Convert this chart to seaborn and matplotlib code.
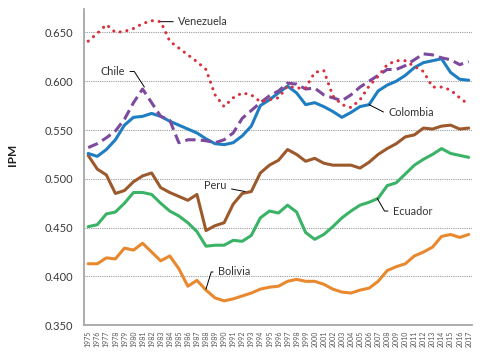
import numpy as np
import pandas as pd
import seaborn as sns
import matplotlib
matplotlib.use("Agg")
import matplotlib.pyplot as plt

# data (IPM by year)
years = list(range(1975, 2018))

venezuela = [0.641, 0.649, 0.658, 0.650, 0.651, 0.654, 0.659, 0.662, 0.661, 0.641,
             0.634, 0.627, 0.620, 0.612, 0.586, 0.574, 0.583, 0.588, 0.586, 0.579,
             0.581, 0.583, 0.595, 0.593, 0.593, 0.609, 0.611, 0.585, 0.576, 0.573,
             0.581, 0.595, 0.605, 0.617, 0.621, 0.621, 0.615, 0.610, 0.594, 0.594,
             0.591, 0.583, 0.576]
chile = [0.532, 0.536, 0.542, 0.549, 0.561, 0.578, 0.592, 0.578, 0.564, 0.560,
         0.537, 0.540, 0.540, 0.539, 0.537, 0.540, 0.547, 0.562, 0.570, 0.578,
         0.585, 0.590, 0.598, 0.597, 0.592, 0.593, 0.586, 0.583, 0.580, 0.586,
         0.594, 0.600, 0.606, 0.612, 0.612, 0.616, 0.622, 0.628, 0.627, 0.624,
         0.622, 0.617, 0.620]
colombia = [0.526, 0.523, 0.530, 0.540, 0.555, 0.563, 0.564, 0.567, 0.564, 0.559,
            0.555, 0.551, 0.547, 0.541, 0.536, 0.535, 0.537, 0.544, 0.554, 0.575,
            0.581, 0.588, 0.595, 0.588, 0.576, 0.578, 0.574, 0.569, 0.563, 0.568,
            0.574, 0.576, 0.590, 0.596, 0.600, 0.606, 0.614, 0.619, 0.621, 0.623,
            0.609, 0.602, 0.601]
peru = [0.524, 0.510, 0.504, 0.485, 0.488, 0.497, 0.503, 0.506, 0.491, 0.486,
        0.482, 0.478, 0.484, 0.447, 0.452, 0.455, 0.474, 0.485, 0.487, 0.506,
        0.514, 0.519, 0.530, 0.525, 0.518, 0.521, 0.516, 0.514, 0.514, 0.514,
        0.511, 0.517, 0.525, 0.531, 0.536, 0.543, 0.545, 0.552, 0.551, 0.554,
        0.555, 0.551, 0.552]
ecuador = [0.451, 0.453, 0.464, 0.466, 0.475, 0.486, 0.486, 0.484, 0.475, 0.467,
           0.462, 0.455, 0.446, 0.431, 0.432, 0.432, 0.437, 0.436, 0.442, 0.460,
           0.467, 0.465, 0.473, 0.466, 0.445, 0.438, 0.443, 0.451, 0.460, 0.467,
           0.473, 0.476, 0.480, 0.493, 0.496, 0.505, 0.514, 0.520, 0.525, 0.531,
           0.526, 0.524, 0.522]
bolivia = [0.413, 0.413, 0.419, 0.418, 0.429, 0.427, 0.434, 0.425, 0.416, 0.421,
           0.408, 0.390, 0.396, 0.386, 0.378, 0.375, 0.377, 0.380, 0.383, 0.387,
           0.389, 0.390, 0.395, 0.397, 0.395, 0.395, 0.392, 0.387, 0.384, 0.383,
           0.386, 0.388, 0.395, 0.406, 0.410, 0.413, 0.421, 0.425, 0.430, 0.441,
           0.443, 0.440, 0.443]

yticks = [0.350, 0.400, 0.450, 0.500, 0.550, 0.600, 0.650]

sns.set_theme(style="white")
plt.rcParams['font.family'] = ['Lato', 'DejaVu Sans']

# drawing order: bottom first
series = [
    ("Bolivia", bolivia, "#e8892f", ""),
    ("Ecuador", ecuador, "#3bb366", ""),
    ("Peru", peru, "#9c5a2c", ""),
    ("Colombia", colombia, "#1f7ec1", ""),
    ("Chile", chile, "#7d4a9e", (3.4, 1.7)),
    ("Venezuela", venezuela, "#d8303c", (0.05, 2.2)),
]

fig, ax = plt.subplots(figsize=(4.84, 3.59), dpi=100)
fig.subplots_adjust(left=0.174, right=0.975, bottom=0.094, top=0.975)

for name, vals, col, dash in series:
    df = pd.DataFrame({"year": years, "IPM": vals})
    kw = {}
    if dash:
        kw["dashes"] = dash
    sns.lineplot(data=df, x="year", y="IPM", ax=ax, color=col, linewidth=2.2,
                 dash_capstyle="round" if name == "Venezuela" else "butt",
                 solid_capstyle="round", **kw)

ax.set_xlim(1974.56, 2017.35)
ax.set_ylim(0.350, 0.674)
ax.set_yticks(yticks)
ax.set_yticklabels([f"{v:.3f}" for v in yticks])
ax.set_xticks(years)
ax.set_xticklabels([str(y) for y in years], rotation=90)
ax.tick_params(axis="y", length=0, pad=8, labelsize=8, labelcolor="#3a3a3a")
ax.tick_params(axis="x", length=0, pad=4, labelsize=5, labelcolor="#555555")

ax.yaxis.grid(True, linestyle=(0, (1, 1)), color="#9a9a9a", linewidth=0.8)
ax.xaxis.grid(False)
ax.set_axisbelow(True)
sns.despine(ax=ax)
for s in ["left", "bottom"]:
    ax.spines[s].set_color("#a6a6a6")
    ax.spines[s].set_linewidth(1.3)

ax.set_xlabel("")
ax.set_ylabel("IPM", fontsize=8.5, fontweight="bold", color="#222222")
ax.yaxis.set_label_coords(-0.17, 0.54)

# leader-line labels
lab = dict(fontsize=7.8, color="#333333", va="center")
line = dict(arrowstyle="-", color="black", linewidth=0.7, shrinkA=1, shrinkB=0)
ax.annotate("Venezuela", xy=(1983.0, 0.661), xytext=(1984.9, 0.661), ha="left",
            arrowprops=dict(line, connectionstyle="arc3"), **lab)
ax.annotate("Chile", xy=(1981.2, 0.594), xytext=(1979.1, 0.610), ha="right",
            arrowprops=dict(line, connectionstyle="angle,angleA=0,angleB=123,rad=0"), **lab)
ax.annotate("Colombia", xy=(2006.0, 0.576), xytext=(2008.1, 0.568), ha="left",
            arrowprops=dict(line, connectionstyle="angle,angleA=0,angleB=-27,rad=0"), **lab)
ax.annotate("Peru", xy=(1992.3, 0.487), xytext=(1990.3, 0.4927), ha="right",
            arrowprops=dict(line, connectionstyle="arc3"), **lab)
ax.annotate("Ecuador", xy=(2006.9, 0.480), xytext=(2008.6, 0.467), ha="left",
            arrowprops=dict(line, connectionstyle="angle,angleA=0,angleB=120,rad=0"), **lab)
ax.annotate("Bolivia", xy=(1988.0, 0.387), xytext=(1989.3, 0.4046), ha="left",
            arrowprops=dict(line, connectionstyle="angle,angleA=0,angleB=73,rad=0"), **lab)

plt.savefig("out.png", dpi=100)
